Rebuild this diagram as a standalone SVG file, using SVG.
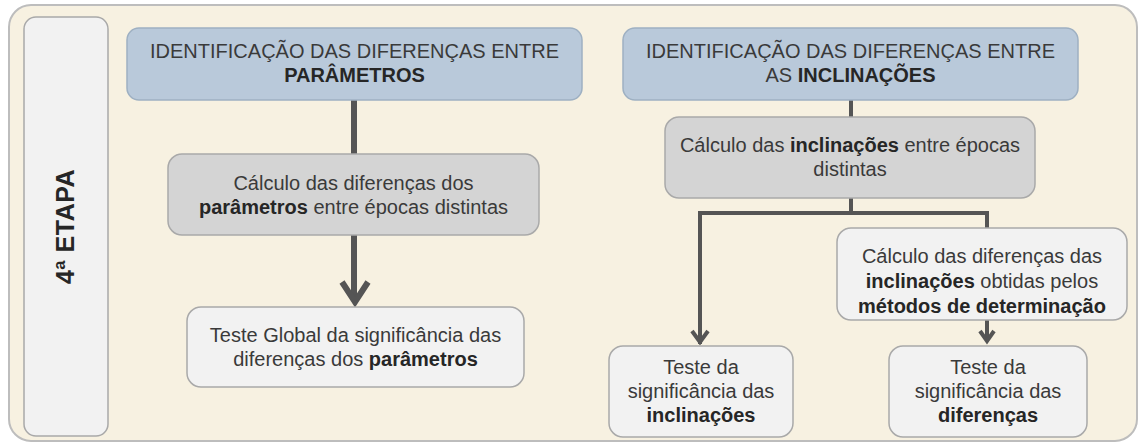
<svg xmlns="http://www.w3.org/2000/svg" width="1141" height="443" viewBox="0 0 1141 443">
<style>
text{font-family:"Liberation Sans",Arial,sans-serif;font-size:20px;fill:#3a3a3a;text-anchor:middle}
.b{font-weight:bold;fill:#262626}
.head{fill:#b9c9da;stroke:#9eb0c2;stroke-width:1.5}
.mid{fill:#d4d4d4;stroke:#a9a9a9;stroke-width:1.5}
.light{fill:#f2f2f2;stroke:#a9a9a9;stroke-width:1.5}
.conn{fill:none;stroke:#555555;stroke-linejoin:miter;stroke-linecap:butt}
</style>
<rect x="9" y="5" width="1128" height="436" rx="22" fill="#f7f1e1" stroke="#bdbdbd" stroke-width="2"/>
<g id="etapa">
<rect x="24" y="17" width="84" height="419" rx="12" class="light"/>
<text class="b" transform="translate(74,226.5) rotate(-90)" style="font-size:25px;letter-spacing:0.5px">4ª ETAPA</text>
</g>
<g id="connectors">
<path class="conn" stroke-width="6" d="M354 100 V156"/>
<path class="conn" stroke-width="6" d="M354 235 V300"/>
<path class="conn" stroke-width="6" d="M342 282 L355 302 L368 282"/>
<path class="conn" stroke-width="4" d="M851 100 V118"/>
<path class="conn" stroke-width="4" d="M851 198 V213 M700 344 V213 H987 V228"/>
<path class="conn" stroke-width="4" d="M692 331 L700 342 L708 331"/>
<path class="conn" stroke-width="4" d="M987 320 V341"/>
<path class="conn" stroke-width="4" d="M980 331 L987 341 L994 331"/>
</g>
<g id="n1">
<rect x="127" y="28" width="455" height="72" rx="12" class="head"/>
<text x="354.5" y="58">IDENTIFICAÇÃO DAS DIFERENÇAS ENTRE</text>
<text x="354.5" y="82" class="b">PARÂMETROS</text>
</g>
<g id="n2">
<rect x="168" y="154" width="371" height="81" rx="14" class="mid"/>
<text x="353.5" y="190">Cálculo das diferenças dos</text>
<text x="353.5" y="214"><tspan class="b">parâmetros</tspan> entre épocas distintas</text>
</g>
<g id="n3">
<rect x="187" y="307" width="337" height="80" rx="14" class="light"/>
<text x="355.5" y="342">Teste Global da significância das</text>
<text x="355.5" y="366">diferenças dos <tspan class="b">parâmetros</tspan></text>
</g>
<g id="n4">
<rect x="623" y="28" width="455" height="72" rx="12" class="head"/>
<text x="850.5" y="58">IDENTIFICAÇÃO DAS DIFERENÇAS ENTRE</text>
<text x="850.5" y="82">AS <tspan class="b">INCLINAÇÕES</tspan></text>
</g>
<g id="n5">
<rect x="665" y="117" width="370" height="81" rx="14" class="mid"/>
<text x="850" y="152">Cálculo das <tspan class="b">inclinações</tspan> entre épocas</text>
<text x="850" y="176">distintas</text>
</g>
<g id="n6">
<rect x="609" y="346" width="184" height="91" rx="14" class="light"/>
<text x="701" y="374">Teste da</text>
<text x="701" y="398">significância das</text>
<text x="701" y="422" class="b">inclinações</text>
</g>
<g id="n7">
<rect x="837" y="228" width="290" height="92" rx="14" class="light"/>
<text x="982" y="263">Cálculo das diferenças das</text>
<text x="982" y="288"><tspan class="b">inclinações</tspan> obtidas pelos</text>
<text x="982" y="313" class="b">métodos de determinação</text>
</g>
<g id="n8">
<rect x="889" y="346" width="198" height="91" rx="14" class="light"/>
<text x="988" y="374">Teste da</text>
<text x="988" y="398">significância das</text>
<text x="988" y="422" class="b">diferenças</text>
</g>
</svg>
